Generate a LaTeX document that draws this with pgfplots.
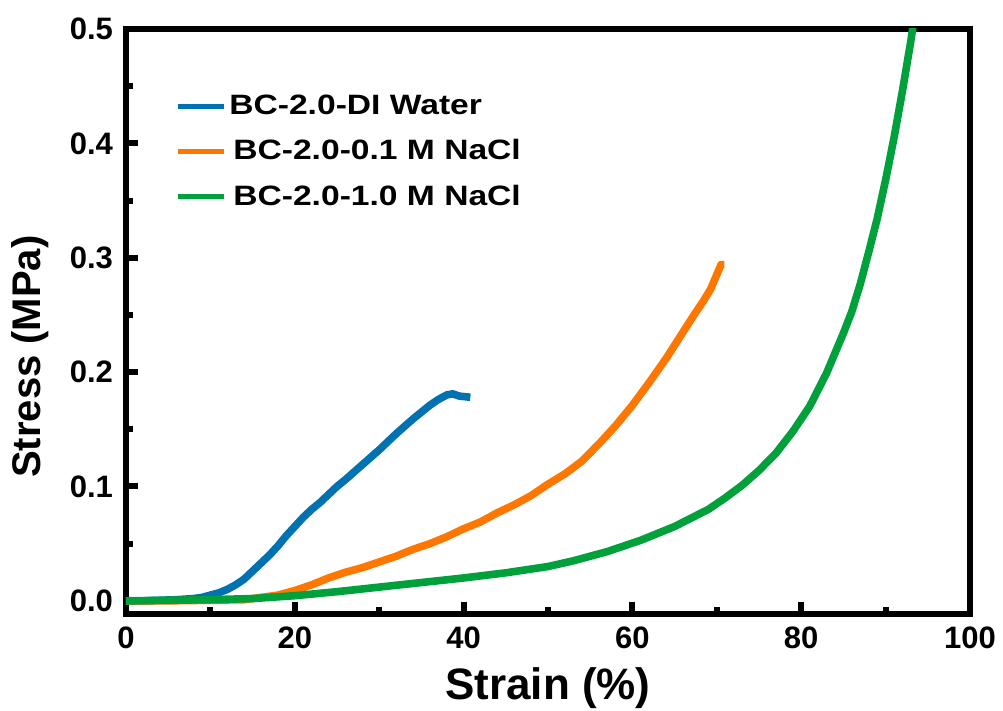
\documentclass[border=0pt]{standalone}
\usepackage{fontspec}
\setmainfont{Liberation Sans}
\newfontfamily\legfont[FakeStretch=1.2]{Liberation Sans}
\usepackage{pgfplots}
\pgfplotsset{compat=1.18}
\definecolor{cblue}{RGB}{0,114,178}
\definecolor{corange}{RGB}{255,119,0}
\definecolor{cgreen}{RGB}{0,160,58}
\begin{document}
\begin{tikzpicture}
\begin{axis}[
  scale only axis, width=422pt, height=292.5pt,
  xmin=0, xmax=100, ymin=-0.0115, ymax=0.5,
  xtick={0,20,...,100}, ytick={0,0.1,...,0.5},
  minor x tick num=1, minor y tick num=1,
  tick align=inside, xtick pos=bottom, ytick pos=left,
  major tick length=6pt, minor tick length=3.5pt,
  tick style={black, line width=3pt},
  major tick style={line width=3pt}, minor tick style={line width=3pt},
  axis line style={line width=3pt},
  /pgf/number format/assume math mode=true,
  yticklabel style={/pgf/number format/fixed, /pgf/number format/fixed zerofill, /pgf/number format/precision=1, xshift=-3pt},
  xticklabel style={yshift=-3pt},
  tick label style={font=\bfseries\fontsize{15.5}{15.5}\selectfont},
  xlabel={Strain (\%)}, ylabel={Stress (MPa)},
  xlabel style={font=\bfseries\fontsize{22}{22}\selectfont, at={(axis description cs:0.5,-0.127)}, anchor=center},
  ylabel style={font=\bfseries\fontsize{20}{20}\selectfont, at={(axis description cs:-0.114,0.44)}, anchor=center, rotate=0},
  legend style={at={(0.058,0.893)}, anchor=north west, draw=none, fill=none,
    font=\legfont\bfseries\fontsize{14}{14}\selectfont, row sep=8pt, inner sep=0pt,
    nodes={inner sep=1.5pt}},
  legend cell align=left,
  legend image code/.code={\draw[#1, line width=2.5pt] (0pt,0pt) -- (23pt,0pt);},
  every axis plot/.append style={line width=3.8pt, line join=round},
]
\addplot[cblue] coordinates {(0,0.0) (2,0.0) (4,0.0005) (6,0.001) (8,0.002) (9,0.003) (10,0.005) (11,0.007) (12,0.010) (13,0.014) (14,0.019) (15,0.026) (16,0.033) (17,0.040) (18,0.048) (19,0.057) (20,0.065) (21,0.073) (22,0.080) (23,0.086) (24,0.093) (25,0.100) (26,0.106) (28,0.119) (30,0.132) (32,0.146) (34,0.159) (36,0.171) (37,0.176) (38,0.180) (38.7,0.181) (39.5,0.179) (40.8,0.178)};
\addplot[corange] coordinates {(0,0.0) (5,0.0) (10,0.0005) (14,0.001) (16,0.003) (18,0.005) (20,0.009) (22,0.014) (24,0.020) (26,0.025) (28,0.029) (30,0.034) (32,0.039) (34,0.045) (36,0.050) (38,0.056) (40,0.063) (42,0.069) (44,0.077) (46,0.084) (48,0.092) (50,0.102) (52,0.111) (54,0.122) (56,0.137) (58,0.153) (60,0.171) (62,0.191) (64,0.212) (66,0.235) (67.3,0.250) (68.4,0.262) (69.3,0.273) (70.1,0.287) (70.5,0.294) (70.9,0.294)};
\addplot[cgreen] coordinates {(0,0.0) (5,0.0005) (10,0.001) (15,0.002) (20,0.0045) (25,0.008) (30,0.012) (35,0.016) (40,0.020) (45,0.0245) (50,0.030) (53,0.035) (57,0.043) (61,0.053) (65,0.065) (69,0.080) (71,0.090) (73,0.101) (75,0.114) (77,0.129) (79,0.148) (81,0.170) (83,0.199) (85,0.234) (86,0.253) (87,0.277) (88,0.305) (89,0.334) (90,0.368) (91,0.405) (92,0.446) (93,0.490) (93.3,0.505)};
\legend{BC-2.0-DI Water, \hspace{2pt}BC-2.0-0.1 M NaCl, \hspace{2pt}BC-2.0-1.0 M NaCl}
\end{axis}
\pgfresetboundingbox
\path[use as bounding box] ([shift={(-63pt,-48.5pt)}]current axis.south west) rectangle ([shift={(16.5pt,14.5pt)}]current axis.north east);
\end{tikzpicture}
\end{document}
